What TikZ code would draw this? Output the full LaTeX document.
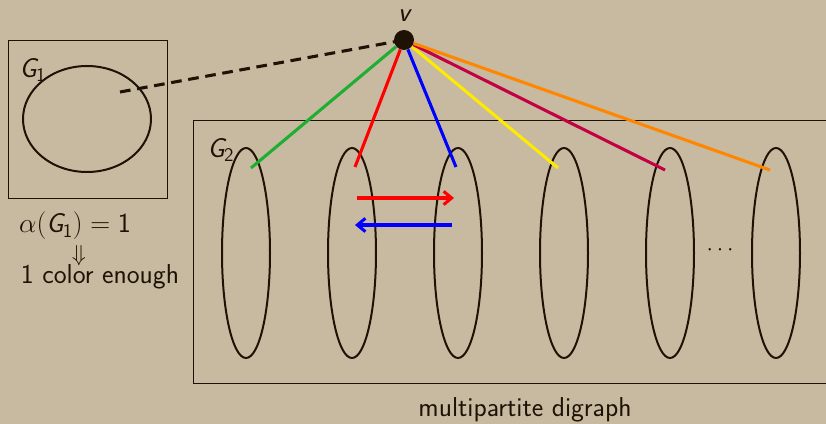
\documentclass[tikz,border=0pt]{standalone}
\usepackage{amssymb}
\usetikzlibrary{arrows.meta}
\definecolor{bg}{RGB}{200,185,161}
\definecolor{ink}{RGB}{30,18,5}
\definecolor{cgreen}{RGB}{30,175,50}
\definecolor{cyellow}{RGB}{255,235,0}
\definecolor{ccrim}{RGB}{195,0,65}
\definecolor{corange}{RGB}{255,135,0}
\begin{document}
\begin{tikzpicture}[x=0.75pt,y=-0.75pt,
  frame/.style={draw=ink,line width=0.7pt},
  part/.style={draw=ink,line width=1.5pt},
  edge/.style={line width=2.3pt},
  lbl/.style={inner sep=0pt,font=\fontsize{20.5}{24}\selectfont\sffamily,text=ink}]
\fill[bg] (0,0) rectangle (826,424);
\useasboundingbox (0,0) rectangle (826,424);
% G1
\draw[frame] (8,40) rectangle (167,198);
\draw[part] (87,119) ellipse [x radius=64, y radius=53];
\node[lbl] (g1) at (33,70) {\slshape G\kern-0.5pt$_{\mathsf{1}}$};
\coordinate (d1) at (120,92);
% v
\node[circle,fill=ink,minimum size=15pt,inner sep=0pt] (v) at (404,40) {};
\node[lbl] (vl) at (404,16) {\slshape v};
\draw[ink,line width=2.3pt,dash pattern=on 8pt off 5pt] (d1) -- (v.center);
% G2
\draw[frame] (193,120) -- (830,120);
\draw[frame] (193,120) -- (193,383) -- (830,383);
\node[lbl] (g2) at (221,150) {\slshape G\kern-0.5pt$_{\mathsf{2}}$};
\foreach \i/\x in {1/246,2/352,3/458,4/564,5/670,6/776}{
  \draw[part] (\x,253) ellipse [x radius=24, y radius=105];
}
\coordinate (e1) at (251,168);
\coordinate (e2) at (355,167);
\coordinate (e3) at (456,167);
\coordinate (e4) at (558,168);
\coordinate (e5) at (665,170);
\coordinate (e6) at (770,170);
\draw[edge,cgreen] (v) -- (e1);
\draw[edge,red] (v) -- (e2);
\draw[edge,blue] (v) -- (e3);
\draw[edge,cyellow] (v) -- (e4);
\draw[edge,ccrim] (v) -- (e5);
\draw[edge,corange] (v) -- (e6);
% arrows
\coordinate (r1) at (357,198); \coordinate (r2) at (454,198);
\coordinate (b1) at (452,225); \coordinate (b2) at (355,225);
\draw[edge,red,-{Straight Barb[length=6pt,width=10pt]}] (r1) -- (r2);
\draw[edge,blue,-{Straight Barb[length=6pt,width=10pt]}] (b1) -- (b2);
\node[lbl,font=\fontsize{16}{19}\selectfont] (dots) at (720,250) {$\cdots$};
% texts
\node[lbl] (alpha) at (75,226) {$\alpha(\textsf{\slshape G}\kern-0.5pt_{\mathsf{1}})=\mathsf{1}$};
\node[lbl,font=\fontsize{17}{19}\selectfont] (arr) at (79,256) {$\Downarrow$};
\node[lbl] (enough) at (100,277) {1 color enough};
\node[lbl] (mp) at (525,410) {multipartite digraph};
\end{tikzpicture}
\end{document}
